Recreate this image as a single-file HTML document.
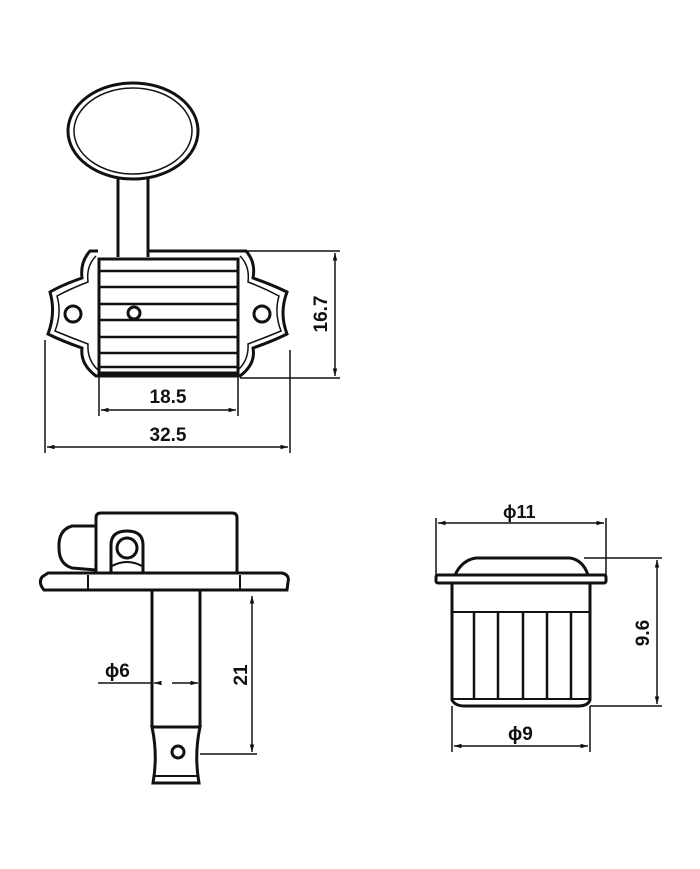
<!DOCTYPE html>
<html><head><meta charset="utf-8"><style>
html,body{margin:0;padding:0;background:#fff}
svg{display:block}
text{font-family:"Liberation Sans",Arial,sans-serif;font-weight:bold;fill:#111}
</style></head><body>
<svg width="700" height="869" viewBox="0 0 700 869" xmlns="http://www.w3.org/2000/svg">
<defs>
<marker id="a" viewBox="0 0 10 10" refX="10" refY="5" markerWidth="7" markerHeight="5" orient="auto-start-reverse"><path d="M0,2 L10,5 L0,8 z" fill="#111"/></marker>
</defs>
<g fill="none" stroke="#111" stroke-width="3">
<!-- top view -->
<ellipse cx="133" cy="131" rx="65" ry="48"/>
<ellipse cx="133" cy="131" rx="59" ry="43" stroke-width="1.5"/>
<line x1="118" y1="178" x2="118" y2="257"/><line x1="148" y1="178" x2="148" y2="257"/>
<path d="M98,251 L90,251 Q80,262 82,278 Q62,285 50,292 Q56,313 48,334 Q62,341 82,348 Q80,364 96,376 L240,376 Q256,364 253,348 Q273,341 287,334 Q279,313 287,292 Q273,285 253,278 Q256,262 246,251 L148,251"/>
<path d="M96,256 Q86,266 88,282 Q72,288 57,296 Q62,313 55,331 Q72,338 88,344 Q87,360 98,370" stroke-width="1.5"/>
<path d="M240,256 Q250,266 248,282 Q264,288 279,296 Q274,313 281,331 Q264,338 248,344 Q249,360 238,370" stroke-width="1.5"/>
<rect x="99" y="259" width="139" height="114"/>
<g stroke-width="2.5"><line x1="99" y1="271" x2="238" y2="271"/><line x1="99" y1="287" x2="238" y2="287"/><line x1="99" y1="304" x2="238" y2="304"/><line x1="99" y1="320" x2="238" y2="320"/><line x1="99" y1="337" x2="238" y2="337"/><line x1="99" y1="353" x2="238" y2="353"/><line x1="99" y1="367" x2="238" y2="367"/></g>
<circle cx="73" cy="314" r="8"/><circle cx="262" cy="314" r="8"/><circle cx="134" cy="313" r="6" fill="#fff"/>
<!-- dims top -->
<g stroke-width="1.5">
<line x1="246" y1="251" x2="340" y2="251"/><line x1="240" y1="378" x2="340" y2="378"/>
<line x1="335" y1="253" x2="335" y2="376" marker-start="url(#a)" marker-end="url(#a)"/>
<line x1="99" y1="373" x2="99" y2="416"/><line x1="238" y1="373" x2="238" y2="416"/>
<line x1="101" y1="410" x2="236" y2="410" marker-start="url(#a)" marker-end="url(#a)"/>
<line x1="45" y1="340" x2="45" y2="453"/><line x1="290" y1="350" x2="290" y2="453"/>
<line x1="47" y1="447" x2="288" y2="447" marker-start="url(#a)" marker-end="url(#a)"/>
</g>
<!-- bottom left -->
<path d="M96,572 L96,518 Q96,513 101,513 L232,513 Q237,513 237,518 L237,572"/>
<path d="M96,526 L72,526 Q58,530 59,548 Q59,564 72,568 L96,570"/>
<path d="M111,572 L111,545 Q111,531 127,531 Q143,531 143,545 L143,572"/>
<circle cx="127" cy="548" r="10"/>
<path d="M112,566 Q127,558 142,566" stroke-width="2"/>
<path d="M48,573 L282,573 Q290,575 288,582 L287,590 L44,590 Q38,583 42,577 Z"/>
<line x1="88" y1="575" x2="88" y2="589" stroke-width="2"/><line x1="240" y1="575" x2="240" y2="589" stroke-width="2"/>
<line x1="152" y1="590" x2="152" y2="727"/><line x1="200" y1="590" x2="200" y2="727"/>
<path d="M152,727 Q158,755 153,783 L199,783 Q194,755 200,727 Z"/>
<line x1="154" y1="776" x2="198" y2="776" stroke-width="2"/>
<circle cx="178" cy="752" r="6"/>
<g stroke-width="1.5">
<line x1="252" y1="596" x2="252" y2="752" marker-start="url(#a)" marker-end="url(#a)"/>
<line x1="200" y1="754" x2="257" y2="754"/>
<line x1="98" y1="683" x2="152" y2="683"/>
<line x1="172" y1="683" x2="198" y2="683" marker-end="url(#a)"/>
<line x1="160" y1="683" x2="154" y2="683" marker-end="url(#a)"/>
</g>
<!-- bottom right -->
<path d="M455,575 Q462,560 476,558 L570,558 Q583,560 588,575"/>
<rect x="436" y="575" width="170" height="8" rx="2"/>
<path d="M452,583 L452,700 Q455,706 465,706 L578,706 Q588,706 590,700 L590,583"/>
<line x1="452" y1="612" x2="590" y2="612" stroke-width="2"/>
<line x1="452" y1="699" x2="590" y2="699" stroke-width="2"/>
<g stroke-width="2.5"><line x1="474" y1="612" x2="474" y2="699"/><line x1="498" y1="612" x2="498" y2="699"/><line x1="523" y1="612" x2="523" y2="699"/><line x1="547" y1="612" x2="547" y2="699"/><line x1="571" y1="612" x2="571" y2="699"/></g>
<g stroke-width="1.5">
<line x1="436" y1="518" x2="436" y2="575"/><line x1="606" y1="518" x2="606" y2="583"/>
<line x1="438" y1="523" x2="604" y2="523" marker-start="url(#a)" marker-end="url(#a)"/>
<line x1="584" y1="558" x2="662" y2="558"/><line x1="590" y1="706" x2="662" y2="706"/>
<line x1="657" y1="560" x2="657" y2="704" marker-start="url(#a)" marker-end="url(#a)"/>
<line x1="452" y1="706" x2="452" y2="752"/><line x1="590" y1="706" x2="590" y2="752"/>
<line x1="454" y1="746" x2="588" y2="746" marker-start="url(#a)" marker-end="url(#a)"/>
</g>
</g>
<text x="168" y="403" font-size="19" text-anchor="middle">18.5</text>
<text x="168" y="441" font-size="19" text-anchor="middle">32.5</text>
<text transform="translate(327,314) rotate(-90)" font-size="19" text-anchor="middle">16.7</text>
<text x="105" y="677" font-size="19">ϕ6</text>
<text transform="translate(247,675) rotate(-90)" font-size="19" text-anchor="middle">21</text>
<text x="503" y="518" font-size="18">ϕ11</text>
<text x="508" y="740" font-size="19">ϕ9</text>
<text transform="translate(649,633) rotate(-90)" font-size="19" text-anchor="middle">9.6</text>
</svg>
</body></html>
